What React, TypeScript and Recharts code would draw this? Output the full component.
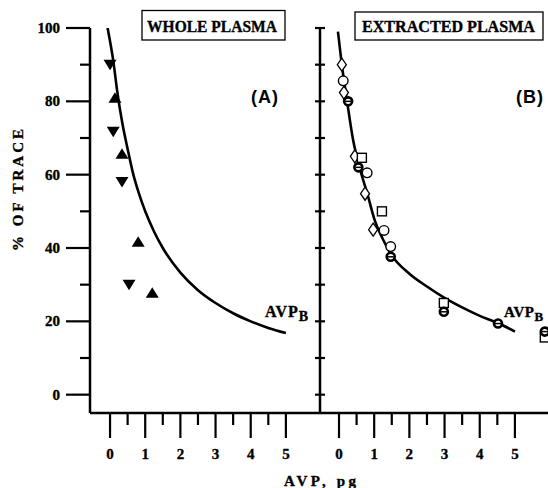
import React from 'react';
import { ComposedChart, Line, Scatter, XAxis, YAxis } from 'recharts';

// panel A – whole plasma
const curveA = [
  { x: -0.07, y: 100 }, { x: 0.1, y: 90.5 }, { x: 0.2, y: 83 }, { x: 0.35, y: 74 },
  { x: 0.5, y: 67 }, { x: 0.65, y: 60.5 }, { x: 0.8, y: 55.5 }, { x: 1, y: 50 },
  { x: 1.25, y: 44.5 }, { x: 1.5, y: 40 }, { x: 2, y: 33.3 }, { x: 2.5, y: 28.5 },
  { x: 3, y: 25 }, { x: 3.5, y: 22.2 }, { x: 4, y: 20 }, { x: 4.5, y: 18.2 }, { x: 5, y: 16.8 },
];
const downTriA = [
  { x: 0, y: 90 }, { x: 0.09, y: 71.7 }, { x: 0.34, y: 58 }, { x: 0.54, y: 30 },
];
const upTriA = [
  { x: 0.14, y: 81 }, { x: 0.34, y: 65.7 }, { x: 0.8, y: 41.7 }, { x: 1.2, y: 27.8 },
];

// panel B – extracted plasma
const curveB = [
  { x: -0.03, y: 99 }, { x: 0.08, y: 90 }, { x: 0.23, y: 80 }, { x: 0.4, y: 69.5 },
  { x: 0.6, y: 61.4 }, { x: 0.8, y: 55 }, { x: 1, y: 48 }, { x: 1.3, y: 41.4 },
  { x: 1.5, y: 38 }, { x: 2, y: 33 }, { x: 2.5, y: 29.5 }, { x: 3, y: 26.4 },
  { x: 3.5, y: 23.8 }, { x: 4, y: 21.5 }, { x: 4.5, y: 19.6 }, { x: 5, y: 17.2 },
];
const diamondsB = [
  { x: 0.08, y: 90 }, { x: 0.14, y: 82.4 }, { x: 0.45, y: 65 }, { x: 0.74, y: 54.8 }, { x: 0.97, y: 45 },
];
const circlesB = [
  { x: 0.12, y: 85.6 }, { x: 0.8, y: 60.5 }, { x: 1.28, y: 44.8 }, { x: 1.47, y: 40.4 },
];
const boldCirclesB = [
  { x: 0.26, y: 80 }, { x: 0.55, y: 62 }, { x: 1.47, y: 37.6 }, { x: 2.98, y: 22.6 },
  { x: 4.52, y: 19.4 }, { x: 5.85, y: 17.2 },
];
const squaresB = [
  { x: 0.65, y: 64.6 }, { x: 1.22, y: 50 }, { x: 2.98, y: 25 }, { x: 5.85, y: 15.6 },
];

const xTicks = [0, 0.5, 1, 1.5, 2, 2.5, 3, 3.5, 4, 4.5, 5];
const yTicks = [0, 10, 20, 30, 40, 50, 60, 70, 80, 90, 100];

const serif = '"Liberation Serif", "DejaVu Serif", serif';
const sans = '"Liberation Sans", Arial, sans-serif';
const ink = { fill: '#000', stroke: '#000', strokeWidth: 0.35 };

const XTick = (p: any) => {
  const v = p.payload.value;
  const major = Number.isInteger(v);
  return (
    <g>
      <line x1={p.x} x2={p.x} y1={p.y} y2={p.y + (major ? 25 : 12)} stroke="#000" strokeWidth={2.2} />
      {major && (
        <text x={p.x} y={p.y + 46} textAnchor="middle" fontFamily={serif} fontWeight="bold" fontSize={15} {...ink}>
          {v}
        </text>
      )}
    </g>
  );
};

const YTickA = (p: any) => {
  const v = p.payload.value;
  const major = v % 20 === 0;
  return (
    <g>
      <line x1={p.x - (major ? 24 : 10)} x2={p.x} y1={p.y} y2={p.y} stroke="#000" strokeWidth={2.2} />
      {major && (
        <text x={p.x - 30} y={p.y + 5} textAnchor="end" fontFamily={serif} fontWeight="bold" fontSize={15} {...ink}>
          {v}
        </text>
      )}
    </g>
  );
};

const YTickB = (p: any) => (
  <line x1={p.x - 5} x2={p.x + 5} y1={p.y} y2={p.y} stroke="#000" strokeWidth={2.2} />
);

const DownTri = (p: any) => (
  <path d={`M${p.cx - 6.5},${p.cy - 5}L${p.cx + 6.5},${p.cy - 5}L${p.cx},${p.cy + 5.5}Z`} fill="#000" />
);
const UpTri = (p: any) => (
  <path d={`M${p.cx - 6.5},${p.cy + 5}L${p.cx + 6.5},${p.cy + 5}L${p.cx},${p.cy - 5.5}Z`} fill="#000" />
);
const Diamond = (p: any) => (
  <path d={`M${p.cx},${p.cy - 6.5}L${p.cx + 4.5},${p.cy}L${p.cx},${p.cy + 6.5}L${p.cx - 4.5},${p.cy}Z`}
    fill="#fff" stroke="#000" strokeWidth={1.3} />
);
const OpenCircle = (p: any) => (
  <circle cx={p.cx} cy={p.cy} r={4.8} fill="#fff" stroke="#000" strokeWidth={1.4} />
);
const BoldCircle = (p: any) => (
  <g>
    <circle cx={p.cx} cy={p.cy} r={4} fill="#fff" stroke="#000" strokeWidth={2.6} />
    <line x1={p.cx - 3} x2={p.cx + 3} y1={p.cy} y2={p.cy} stroke="#000" strokeWidth={1.5} />
  </g>
);
const Square = (p: any) => (
  <rect x={p.cx - 4.5} y={p.cy - 4.5} width={9} height={9} fill="#fff" stroke="#000" strokeWidth={1.4} />
);

const axisLine = { stroke: '#000', strokeWidth: 2.5 };

export default function App() {
  return (
    <div style={{ position: 'absolute', left: 0, top: 0, width: 548, height: 488, background: '#fff', overflow: 'hidden' }}>
      <div style={{ position: 'absolute', left: 0, top: 0 }}>
        <ComposedChart width={320} height={488} margin={{ top: 28, right: 0, left: 0, bottom: 0 }}>
          <XAxis dataKey="x" type="number" domain={[-0.57, 5.97]} allowDataOverflow ticks={xTicks} interval={0}
            height={75} tickSize={0} tickMargin={0} tickLine={false} axisLine={axisLine} tick={XTick} />
          <YAxis dataKey="y" type="number" domain={[-5, 100]} allowDataOverflow ticks={yTicks} interval={0}
            width={90} tickSize={0} tickMargin={0} tickLine={false} axisLine={axisLine} tick={YTickA} />
          <Line data={curveA} dataKey="y" type="monotone" stroke="#000" strokeWidth={2.6} dot={false} isAnimationActive={false} />
          <Scatter data={downTriA} shape={DownTri} isAnimationActive={false} />
          <Scatter data={upTriA} shape={UpTri} isAnimationActive={false} />
        </ComposedChart>
      </div>
      <div style={{ position: 'absolute', left: 300, top: 0 }}>
        <ComposedChart width={248} height={488} margin={{ top: 28, right: 0, left: 0, bottom: 0 }}>
          <XAxis dataKey="x" type="number" domain={[-0.54, 5.94]} allowDataOverflow ticks={xTicks} interval={0}
            height={75} tickSize={0} tickMargin={0} tickLine={false} axisLine={axisLine} tick={XTick} />
          <YAxis dataKey="y" type="number" domain={[-5, 100]} allowDataOverflow ticks={yTicks} interval={0}
            width={20} tickSize={0} tickMargin={0} tickLine={false} axisLine={axisLine} tick={YTickB} />
          <Line data={curveB} dataKey="y" type="monotone" stroke="#000" strokeWidth={2.6} dot={false} isAnimationActive={false} />
          <Scatter data={diamondsB} shape={Diamond} isAnimationActive={false} />
          <Scatter data={circlesB} shape={OpenCircle} isAnimationActive={false} />
          <Scatter data={squaresB} shape={Square} isAnimationActive={false} />
          <Scatter data={boldCirclesB} shape={BoldCircle} isAnimationActive={false} />
        </ComposedChart>
      </div>
      <svg width={548} height={488} style={{ position: 'absolute', left: 0, top: 0, pointerEvents: 'none' }}>
        <rect x={142} y={10.5} width={143} height={29.5} fill="#fff" stroke="#000" strokeWidth={1.3} />
        <text x={147} y={32} textLength={130} lengthAdjust="spacingAndGlyphs" fontFamily={serif} fontWeight="bold" fontSize={17} {...ink}>
          WHOLE PLASMA
        </text>
        <rect x={355} y={12} width={188} height={28} fill="#fff" stroke="#000" strokeWidth={1.3} />
        <text x={362} y={32} textLength={173} lengthAdjust="spacingAndGlyphs" fontFamily={serif} fontWeight="bold" fontSize={17} {...ink}>
          EXTRACTED PLASMA
        </text>
        <text x={265} y={103} textAnchor="middle" fontFamily={sans} fontWeight="bold" fontSize={18} letterSpacing={1}>(A)</text>
        <text x={530} y={103} textAnchor="middle" fontFamily={sans} fontWeight="bold" fontSize={18} letterSpacing={1}>(B)</text>
        <text x={265} y={317} fontFamily={serif} fontWeight="bold" fontSize={16} letterSpacing={1} {...ink}>
          AVP<tspan dy={4} fontSize={14}>B</tspan>
        </text>
        <text x={504} y={317} fontFamily={serif} fontWeight="bold" fontSize={15} letterSpacing={0.5} {...ink}>
          AVP<tspan dy={4} fontSize={13}>B</tspan>
        </text>
        <text transform="translate(23,190) rotate(-90)" textAnchor="middle" textLength={122} lengthAdjust="spacing"
          fontFamily={serif} fontWeight="bold" fontSize={15} {...ink}>
          % OF TRACE
        </text>
        <text x={284} y={486} textLength={72} lengthAdjust="spacing" fontFamily={serif} fontWeight="bold" fontSize={15} {...ink}>
          AVP, pg
        </text>
      </svg>
    </div>
  );
}
